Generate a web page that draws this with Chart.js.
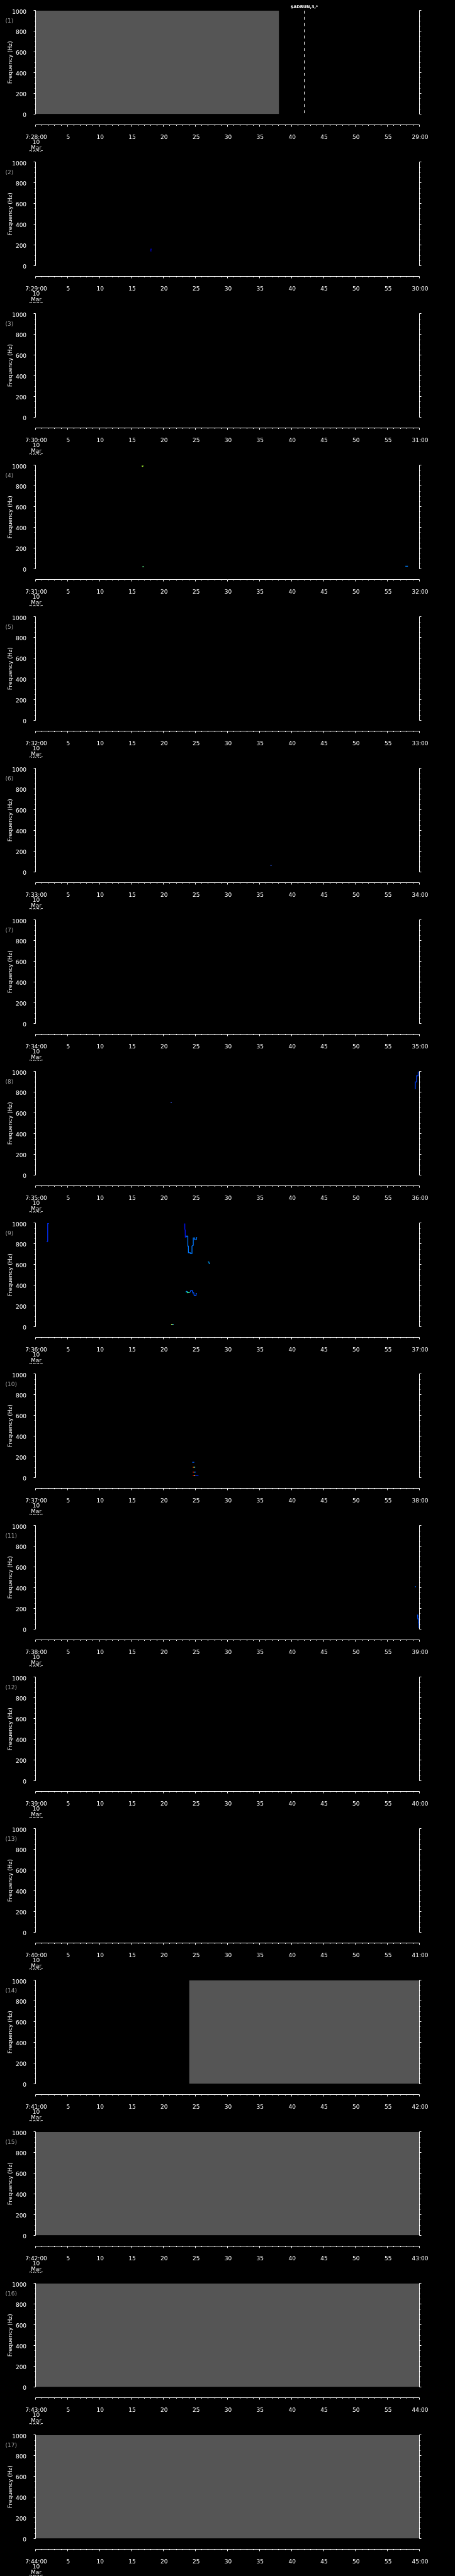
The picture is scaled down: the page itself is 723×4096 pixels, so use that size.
<!DOCTYPE html>
<html lang="en">
  <head>
    <meta charset="UTF-8" />
    <title>Frequency (Hz) - 10 Mar 2026</title>
    <style>
      body { margin: 0; background: #000; }
      #wrap { position: relative; width: 723px; height: 4096px; overflow: hidden; }
      .panel { position: absolute; left: 0; }
    </style>
  </head>
  <body>
    <div id="wrap"></div>
    <script src="https://cdn.jsdelivr.net/npm/chart.js"></script>
    <script>
      // ---- data ----
      const startLabels = [
        "7:28:00", "7:29:00", "7:30:00", "7:31:00", "7:32:00", "7:33:00",
        "7:34:00", "7:35:00", "7:36:00", "7:37:00", "7:38:00", "7:39:00",
        "7:40:00", "7:41:00", "7:42:00", "7:43:00", "7:44:00"
      ];
      const endLabels = [
        "29:00", "30:00", "31:00", "32:00", "33:00", "34:00", "35:00", "36:00",
        "37:00", "38:00", "39:00", "40:00", "41:00", "42:00", "43:00", "44:00", "45:00"
      ];
      const dateLines = ["10", "Mar", "2026"];
      const secondTicks = [5, 10, 15, 20, 25, 30, 35, 40, 45, 50, 55];

      // grey (no data) spans, seconds into each panel; null = none
      const grayStart = [0, null, null, null, null, null, null, null, null, null, null, null, null, 24.0, 0, 0, 0];
      const grayEnd = [38.06, null, null, null, null, null, null, null, null, null, null, null, null, 60, 60, 60, 60];

      // event marker
      const markerPanel = 1;
      const markerTime = 42.0;
      const markerText = "$ADRUN,3,*";

      // traces: seconds / Hz
      const p2Time = [18.0, 18.03, 18.15];
      const p2Freq = [140, 160, 160];

      const p4aTime = [16.6, 16.7, 16.85];
      const p4aFreq = [996, 990, 996];
      const p4bTime = [16.7, 16.95];
      const p4bFreq = [20, 20];
      const p4cTime = [57.8, 58.2];
      const p4cFreq = [25, 25];

      const p6Time = [36.7, 36.9];
      const p6Freq = [62, 62];

      const p8aTime = [21.1, 21.3];
      const p8aFreq = [700, 700];
      const p8bTime = [59.35, 59.35, 59.55, 59.55, 59.8, 59.8, 60];
      const p8bFreq = [830, 900, 900, 960, 960, 1000, 1000];

      const p9aTime = [1.78, 1.85, 1.9, 1.9, 2.08];
      const p9aFreq = [818, 826, 836, 996, 996];
      const p9bTime = [23.31, 23.33, 23.38, 23.4, 23.56];
      const p9bFreq = [996, 940, 936, 865, 865];
      const p9cTime = [23.56, 23.56, 23.8, 23.8, 23.89, 23.89, 24.19, 24.19, 24.45, 24.45, 24.65, 24.65, 24.88, 24.88, 25.12, 25.19];
      const p9cFreq = [865, 875, 875, 779, 779, 715, 715, 708, 708, 779, 786, 858, 858, 839, 839, 865];
      const p9dTime = [23.5, 23.6, 23.66, 23.7, 24.07, 24.19, 24.26, 24.47, 24.54, 24.72, 24.79, 25.05, 25.09, 25.23];
      const p9dFreq = [333, 342, 342, 328, 330, 336, 350, 350, 336, 328, 302, 302, 320, 320];
      const p9eTime = [26.94, 27.08, 27.15, 27.22];
      const p9eFreq = [627, 625, 608, 608];
      const p9fTime = [21.18, 21.38, 21.57];
      const p9fFreq = [21, 21, 21];

      const p10aTime = [24.49, 24.81];
      const p10aFreq = [148, 148];
      const p10bTime = [24.58, 24.7, 24.82, 24.95];
      const p10bFreq = [100, 100, 100, 100];
      const p10cTime = [24.58, 24.75, 24.88, 25.05];
      const p10cFreq = [53, 53, 53, 53];
      const p10dTime = [24.58, 24.8, 24.95, 25.46];
      const p10dFreq = [19, 19, 19, 19];

      const p11aTime = [59.3, 59.45];
      const p11aFreq = [410, 410];
      const p11bTime = [59.7, 59.75, 59.75, 59.85, 59.85, 59.92, 59.92, 60];
      const p11bFreq = [140, 140, 100, 100, 60, 60, 15, 15];

      const traces = [
        { panel: 2, t: p2Time, f: p2Freq, colors: ["#0000d0"] },
        { panel: 4, t: p4aTime, f: p4aFreq, colors: ["#a8ff30"] },
        { panel: 4, t: p4bTime, f: p4bFreq, colors: ["#60ff90"] },
        { panel: 4, t: p4cTime, f: p4cFreq, colors: ["#0080ff"] },
        { panel: 6, t: p6Time, f: p6Freq, colors: ["#2040b0"] },
        { panel: 8, t: p8aTime, f: p8aFreq, colors: ["#3050d0"] },
        { panel: 8, t: p8bTime, f: p8bFreq, colors: ["#0040ff"] },
        { panel: 9, t: p9aTime, f: p9aFreq, colors: ["#0030ff"] },
        { panel: 9, t: p9bTime, f: p9bFreq, colors: ["#0010f0"] },
        { panel: 9, t: p9cTime, f: p9cFreq, colors: ["#0078ff"] },
        { panel: 9, t: p9dTime, f: p9dFreq, colors: ["#00b0ff", "#0050ff", "#00d0ff", "#40ff80", "#0080ff", "#0050ff"] },
        { panel: 9, t: p9eTime, f: p9eFreq, colors: ["#00a0ff"] },
        { panel: 9, t: p9fTime, f: p9fFreq, colors: ["#c0ff40", "#40e0ff"] },
        { panel: 10, t: p10aTime, f: p10aFreq, colors: ["#0060ff"] },
        { panel: 10, t: p10bTime, f: p10bFreq, colors: ["#ff3000", "#ffff00", "#00a0ff"] },
        { panel: 10, t: p10cTime, f: p10cFreq, colors: ["#ff2000", "#40ffc0", "#0040ff"] },
        { panel: 10, t: p10dTime, f: p10dFreq, colors: ["#e00000", "#ffff40", "#0020d0"] },
        { panel: 11, t: p11aTime, f: p11aFreq, colors: ["#0060ff"] },
        { panel: 11, t: p11bTime, f: p11bFreq, colors: ["#0050ff"] }
      ];

      // ---- layout (reference px * S) ----
      const S = 723 / 1024;
      const W = 723;
      const PITCH = 4096 / 17;
      const H = 241;
      const PLOT_TOP = 24 * S;
      const PLOT_BOTTOM = 257 * S;
      const PLOT_LEFT = 80 * S;
      const PLOT_RIGHT = 944 * S;
      const AXIS_GAP = 24 * S;
      const MAJOR = 3;
      const MINOR = 1.5;
      const FONT = "DejaVu Sans";

      const idlFrame = {
        id: "idlFrame",
        afterDraw(chart, args, opts) {
          const { ctx, chartArea: a } = chart;
          const x = chart.scales.x;
          const y = chart.scales.y;
          const px = v => Math.round(v - 0.5) + 0.5;
          const L = px(a.left);
          const R = px(a.right);
          const T = px(a.top);
          const B = px(a.bottom);
          const axisY = px(a.bottom + AXIS_GAP);
          ctx.save();
          ctx.strokeStyle = "#ffffff";
          ctx.lineWidth = 1;
          ctx.beginPath();
          ctx.moveTo(L, T);
          ctx.lineTo(L, B);
          ctx.moveTo(R, T);
          ctx.lineTo(R, B);
          for (let f = 0; f <= 1000; f += 50) {
            const yy = px(y.getPixelForValue(f));
            const len = f % 200 === 0 ? MAJOR : MINOR;
            ctx.moveTo(L - len, yy);
            ctx.lineTo(L, yy);
            ctx.moveTo(R, yy);
            ctx.lineTo(R + len, yy);
          }
          ctx.moveTo(L, axisY);
          ctx.lineTo(R, axisY);
          for (let t = 0; t <= 60; t++) {
            const xx = px(x.getPixelForValue(t));
            ctx.moveTo(xx, axisY);
            ctx.lineTo(xx, axisY + (t % 5 === 0 ? MAJOR : MINOR));
          }
          ctx.stroke();

          ctx.font = "9px " + FONT;
          ctx.fillStyle = "#a0a0a0";
          ctx.textAlign = "left";
          ctx.textBaseline = "middle";
          ctx.fillText(opts.label, 12 * S, 47 * S);

          if (opts.marker) {
            ctx.font = "bold 6.5px " + FONT;
            ctx.fillStyle = "#ffffff";
            ctx.textAlign = "center";
            ctx.fillText(opts.marker, x.getPixelForValue(markerTime), a.top - 5.5);
          }
          ctx.restore();
        }
      };

      const wrap = document.getElementById("wrap");

      startLabels.forEach((start, i) => {
        const panel = i + 1;
        const div = document.createElement("div");
        div.className = "panel";
        div.style.top = Math.round(i * PITCH) + "px";
        const canvas = document.createElement("canvas");
        canvas.width = W;
        canvas.height = H;
        canvas.style.width = W + "px";
        canvas.style.height = H + "px";
        div.appendChild(canvas);
        wrap.appendChild(div);

        const datasets = [];
        if (grayStart[i] !== null) {
          datasets.push({
            data: [
              { x: grayStart[i], y: 1000 },
              { x: grayEnd[i], y: 1000 }
            ],
            fill: "start",
            backgroundColor: "#555555",
            borderWidth: 0,
            pointRadius: 0
          });
        }
        if (panel === markerPanel) {
          datasets.push({
            data: [
              { x: markerTime, y: 1000 },
              { x: markerTime, y: 0 }
            ],
            borderColor: "#ffffff",
            borderWidth: 1,
            borderDash: [4.7, 5.2],
            pointRadius: 0,
            fill: false
          });
        }
        traces
          .filter(tr => tr.panel === panel)
          .forEach(tr => {
            datasets.push({
              data: tr.t.map((t, k) => ({ x: t, y: tr.f[k] })),
              borderColor: tr.colors[0],
              borderWidth: 1.3,
              pointRadius: 0,
              fill: false,
              segment: {
                borderColor: c => tr.colors[Math.min(c.p0DataIndex, tr.colors.length - 1)]
              }
            });
          });

        new Chart(canvas, {
          type: "line",
          data: { datasets: datasets },
          options: {
            responsive: false,
            animation: false,
            events: [],
            layout: { padding: { top: PLOT_TOP, right: W - PLOT_RIGHT, bottom: 0, left: 0 } },
            plugins: {
              legend: { display: false },
              tooltip: { enabled: false },
              idlFrame: { label: "(" + panel + ")", marker: panel === markerPanel ? markerText : null }
            },
            scales: {
              x: {
                type: "linear",
                min: 0,
                max: 60,
                position: "bottom",
                grid: { display: false },
                border: { display: false },
                afterBuildTicks: s => {
                  s.ticks = [0].concat(secondTicks, [60]).map(v => ({ value: v }));
                },
                afterFit: s => {
                  s.height = H - PLOT_BOTTOM;
                },
                ticks: {
                  color: "#ffffff",
                  autoSkip: false,
                  maxRotation: 0,
                  minRotation: 0,
                  padding: 24.6,
                  labelOffset: 1,
                  font: { family: FONT, size: 9, lineHeight: 0.94 },
                  callback: v => {
                    if (v === 0) return [start].concat(dateLines);
                    if (v === 60) return endLabels[i];
                    return String(v);
                  }
                }
              },
              y: {
                type: "linear",
                min: 0,
                max: 1000,
                position: "left",
                grid: { display: false },
                border: { display: false },
                afterFit: s => {
                  s.width = PLOT_LEFT;
                },
                ticks: {
                  stepSize: 200,
                  color: "#ffffff",
                  padding: 6.4,
                  labelOffset: 2.3,
                  font: { family: FONT, size: 9 },
                  callback: v => String(v)
                },
                title: {
                  display: true,
                  text: "Frequency (Hz)",
                  color: "#ffffff",
                  font: { family: FONT, size: 9, lineHeight: 1.2 },
                  padding: { top: 10.8, bottom: 0 }
                }
              }
            }
          },
          plugins: [idlFrame]
        });
      });
    </script>
  </body>
</html>
